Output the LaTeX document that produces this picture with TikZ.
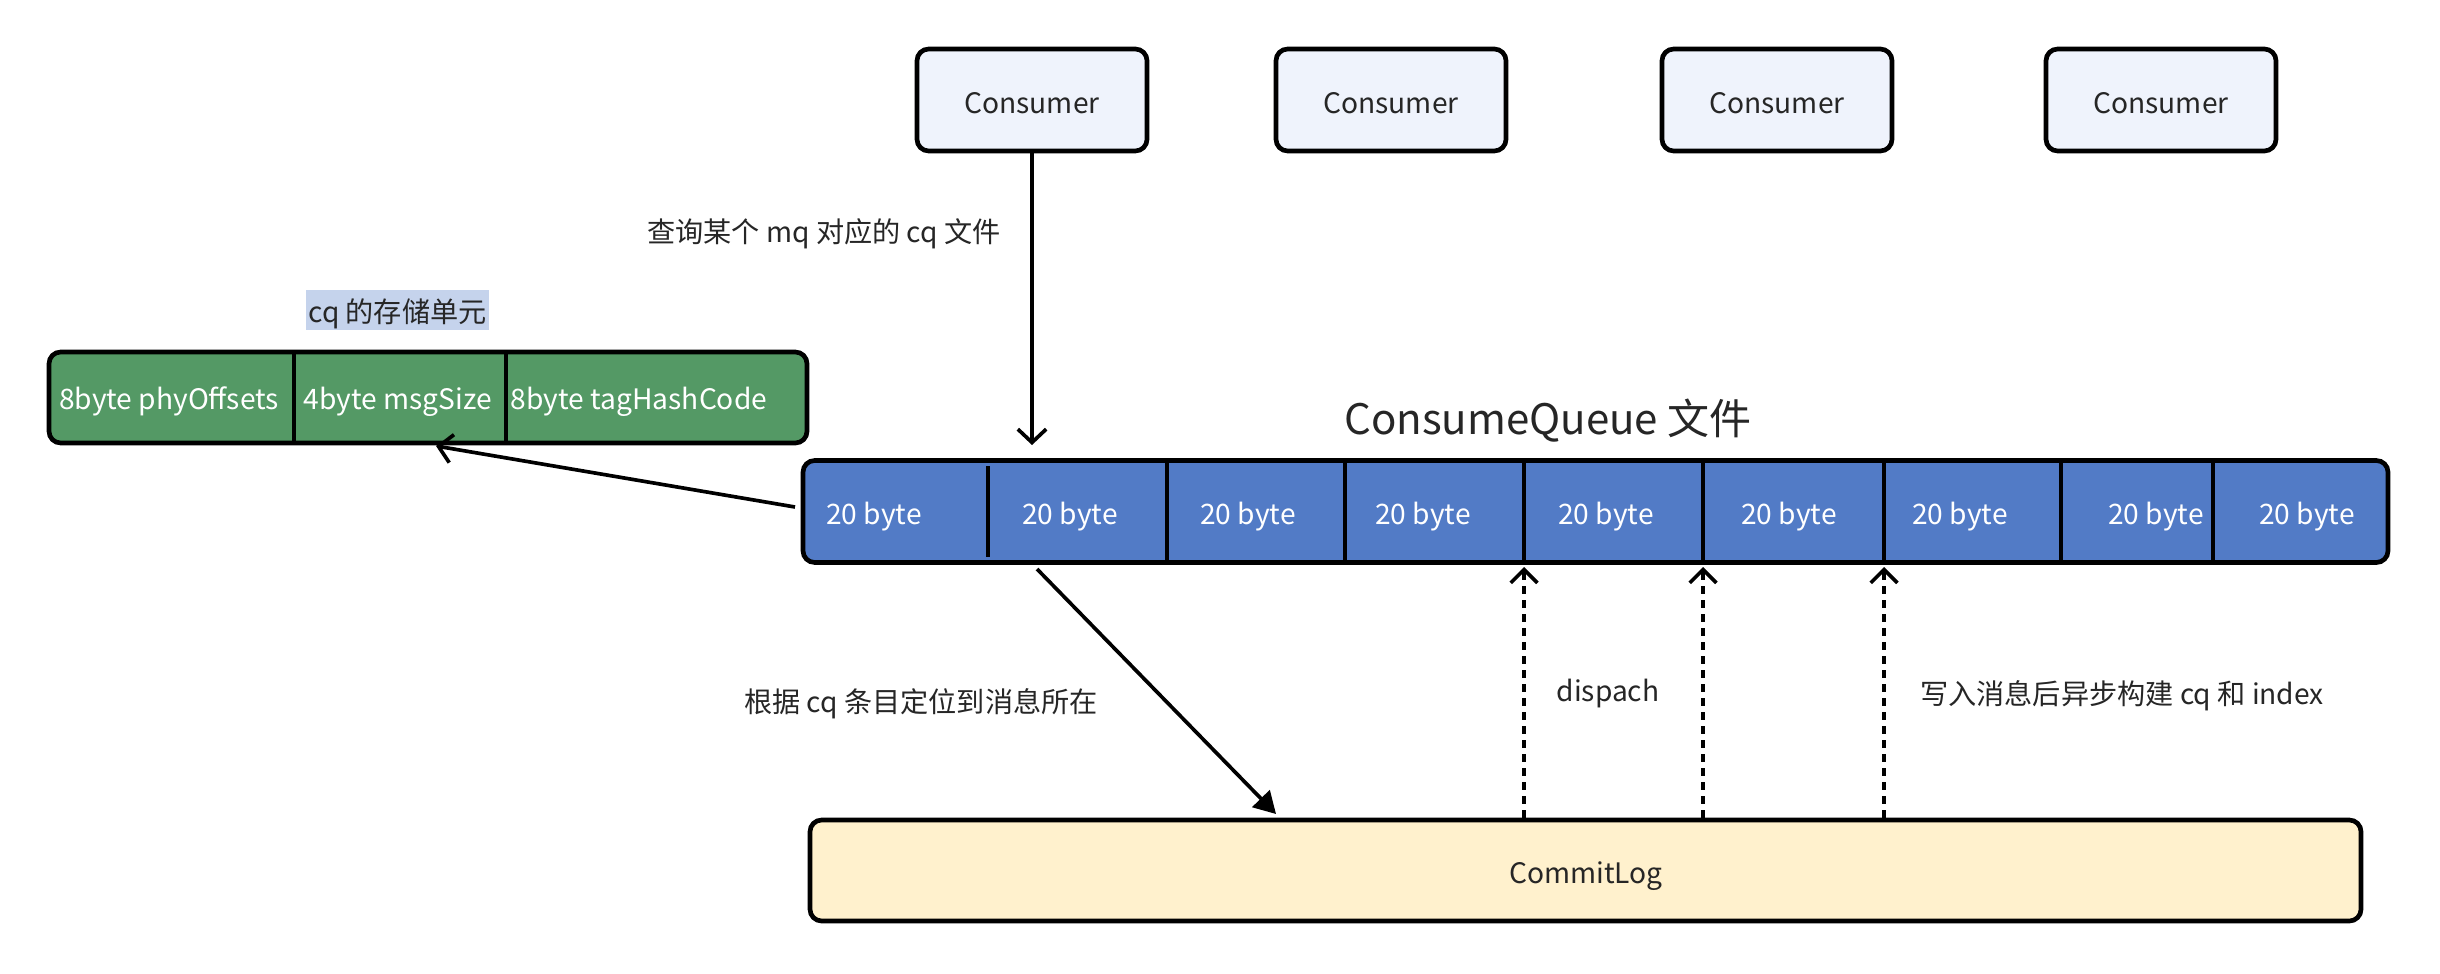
\documentclass[tikz,border=0pt]{standalone}
\usepackage{fontspec}
\setmainfont{Noto Sans CJK SC}
\usetikzlibrary{arrows.meta}
\definecolor{cqblue}{HTML}{527BC6}
\definecolor{cqgreen}{HTML}{549965}
\definecolor{consfill}{HTML}{EFF3FC}
\definecolor{logfill}{HTML}{FFF1CD}
\definecolor{hlfill}{HTML}{C5D3EC}
\definecolor{txt}{HTML}{262626}
\newcommand{\pxu}{0.3pt}
\begin{document}
\begin{tikzpicture}[x=0.3pt,y=-0.3pt,
  font=\fontsize{8.45}{10.2}\selectfont,
  box/.style={draw=black, line width=1.4pt, rounded corners=3.5pt, inner sep=0pt},
  consumer/.style={box, fill=consfill, minimum width=230*\pxu, minimum height=102*\pxu},
  lbl/.style={inner sep=0pt, text=txt, yshift=-1.1pt},
  wlbl/.style={inner sep=0pt, text=white, yshift=-1.1pt},
  divider/.style={draw=black, line width=1.1pt},
  openarrow/.style={draw=black, line width=1.1pt, -{Straight Barb[length=4pt,width=8.5pt]}},
  fillarrow/.style={draw=black, line width=1.1pt, -{Triangle[length=6.5pt,width=7.2pt]}},
  dasharrow/.style={draw=black, line width=1.1pt, dash pattern=on 2.4pt off 1.8pt, -{Straight Barb[length=4pt,width=8pt]}}
]
\useasboundingbox (0,0) rectangle (2440,974);
\fill[white] (0,0) rectangle (2440,974);

% consumers
\foreach \x [count=\i] in {1032,1391,1777,2161}{
  \node[consumer] (c\i) at (\x,100) {};
  \node[lbl] (ct\i) at (c\i.center) {Consumer};
}

% labels
\node[lbl] (l1) at (824,230) {查询某个 mq 对应的 cq 文件};
\node[inner sep=0pt, fill=hlfill, minimum width=183*\pxu, minimum height=40*\pxu] (hl) at (397.5,310) {};
\node[lbl] (hlt) at (hl.center) {cq 的存储单元};

% storage unit
\node[box, fill=cqgreen, minimum width=758*\pxu, minimum height=91*\pxu] (unit) at (428,397.5) {};
\draw[divider] (294,353) -- (294,442);
\draw[divider] (506,353) -- (506,442);
\node[wlbl] (u1) at (169,398) {8byte phyOffsets};
\node[wlbl] (u2) at (398,398) {4byte msgSize};
\node[wlbl] (u3) at (639,398) {8byte tagHashCode};

% consume queue
\node[lbl] (title) at (1548,417) {\fontsize{12.6}{15}\selectfont ConsumeQueue 文件};
\node[box, fill=cqblue, minimum width=1585*\pxu, minimum height=102*\pxu] (cq) at (1595.5,511.5) {};
\draw[divider] (988,466) -- (988,557);
\foreach \x in {1167,1345,1524,1703,1884,2061,2213}
  \draw[divider] (\x,462) -- (\x,561);
\foreach \x [count=\i] in {874,1070,1248,1423,1606,1789,1960,2156,2307}
  \node[wlbl] (b\i) at (\x,513) {20 byte};

% commit log
\node[box, fill=logfill, minimum width=1551*\pxu, minimum height=101*\pxu] (log) at (1585.5,870.5) {};
\node[lbl] (logt) at (1586,872) {CommitLog};

% connector labels
\node[lbl] (l2) at (921,700) {根据 cq 条目定位到消息所在};
\node[lbl] (l3) at (1608,690) {dispach};
\node[lbl] (l4) at (2122,692) {写入消息后异步构建 cq 和 index};

% connectors
\coordinate (q1) at (1032,445);
\draw[openarrow] (c1.south) -- (q1);

\coordinate (s1) at (795,507);
\coordinate (t1) at (436,446);
\draw[openarrow] (s1) -- (t1);

\coordinate (s2) at (1037,569);
\coordinate (t2) at (1276,814);
\draw[fillarrow] (s2) -- (t2);

\coordinate (d1) at (1524,567);
\coordinate (d2) at (1703,567);
\coordinate (d3) at (1884,567);
\draw[dasharrow] (log.north -| d1) -- (d1);
\draw[dasharrow] (log.north -| d2) -- (d2);
\draw[dasharrow] (log.north -| d3) -- (d3);
\end{tikzpicture}
\end{document}
